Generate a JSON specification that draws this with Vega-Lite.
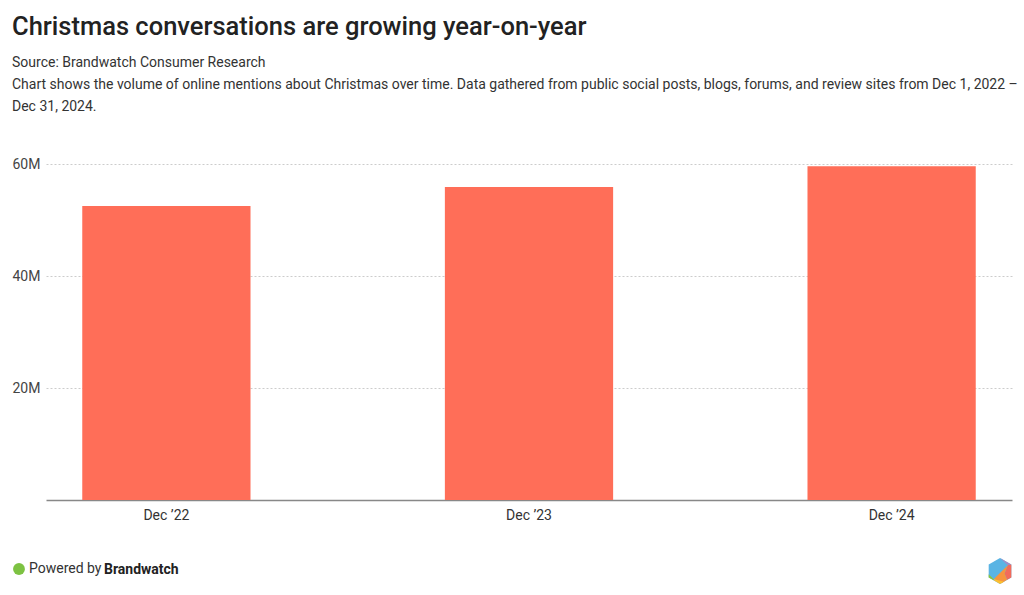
{
  "$schema": "https://vega.github.io/schema/vega-lite/v6.json",
  "autosize": {"type": "none"},
  "width": 966,
  "height": 336,
  "padding": {"left": 46, "top": 164, "right": 12, "bottom": 95},
  "background": "#ffffff",
  "config": {
    "font": "Roboto",
    "view": {"stroke": null},
    "title": {"font": "Roboto"},
    "point": {"opacity": 1},
    "legend": {"padding": 0, "title": null, "orient": "none", "labelFontSize": 14, "symbolOpacity": 1}
  },
  "title": {
    "text": "Christmas conversations are growing year-on-year",
    "subtitle": [
      "Source: Brandwatch Consumer Research",
      "Chart shows the volume of online mentions about Christmas over time. Data gathered from public social posts, blogs, forums, and review sites from Dec 1, 2022 –",
      "Dec 31, 2024."
    ],
    "anchor": "start",
    "frame": "group",
    "dx": -34,
    "offset": 43,
    "fontSize": 25.5,
    "fontWeight": 500,
    "color": "#222222",
    "subtitleFontSize": 14,
    "subtitleColor": "#333333",
    "subtitleLineHeight": 22,
    "subtitlePadding": 16
  },
  "data": {
    "values": [
      {"month": "Dec ’22", "mentions": 52500000},
      {"month": "Dec ’23", "mentions": 55900000},
      {"month": "Dec ’24", "mentions": 59600000}
    ]
  },
  "encoding": {
    "x": {
      "field": "month",
      "type": "nominal",
      "sort": null,
      "scale": {"paddingInner": 0.536, "paddingOuter": 0.1},
      "axis": {
        "title": null,
        "labelAngle": 0,
        "labelFontSize": 14,
        "labelColor": "#333333",
        "labelPadding": 8,
        "ticks": false,
        "domainColor": "#888888",
        "domainWidth": 1.5
      }
    },
    "y": {
      "field": "mentions",
      "type": "quantitative",
      "scale": {"domain": [0, 60000000], "nice": false},
      "axis": {
        "title": null,
        "values": [20000000, 40000000, 60000000],
        "format": "~s",
        "labelAlign": "left",
        "labelPadding": 34,
        "labelBaseline": "middle",
        "labelFontSize": 14,
        "labelColor": "#444444",
        "ticks": false,
        "domain": false,
        "gridColor": "#cccccc",
        "gridDash": [2, 2],
        "gridWidth": 1
      }
    }
  },
  "layer": [
    {
      "mark": {"type": "bar", "color": "#ff6e58"}
    },
    {
      "mark": {"type": "point", "filled": true, "size": 0, "opacity": 1},
      "encoding": {
        "color": {
          "datum": "Powered by",
          "scale": {"range": ["#7dc242"]},
          "legend": {
            "legendX": -34, "legendY": 398,
            "symbolType": "circle", "symbolSize": 140,
            "labelColor": "#333333", "labelOffset": 3
          }
        }
      }
    },
    {
      "mark": {"type": "point", "filled": true, "size": 0, "opacity": 1},
      "encoding": {
        "color": {
          "datum": "Brandwatch",
          "scale": {"range": ["#ffffff"]},
          "legend": {
            "legendX": 44, "legendY": 399,
            "symbolSize": 0, "symbolOpacity": 0,
            "labelOffset": 0, "labelFontWeight": 700, "labelColor": "#222222"
          }
        }
      }
    },
    {
      "mark": {"type": "point", "filled": true, "size": 0, "opacity": 1},
      "encoding": {
        "color": {
          "datum": "logo-blue",
          "scale": {"range": ["#5ab4e4"]},
          "legend": {
            "legendX": 940, "legendY": 393,
            "symbolType": "M0,-1L0.87,-0.5L0.87,0.5L0,1L-0.87,0.5L-0.87,-0.5Z",
            "symbolSize": 676, "labelExpr": "''", "labelOffset": 0
          }
        }
      }
    },
    {
      "mark": {"type": "point", "filled": true, "size": 0, "opacity": 1},
      "encoding": {
        "color": {
          "datum": "logo-purple",
          "scale": {"range": ["#a48cc6"]},
          "legend": {
            "legendX": 940, "legendY": 393,
            "symbolType": "M0,-1L0.87,-0.5L0.6,-0.45Z",
            "symbolSize": 676, "labelExpr": "''", "labelOffset": 0
          }
        }
      }
    },
    {
      "mark": {"type": "point", "filled": true, "size": 0, "opacity": 1},
      "encoding": {
        "color": {
          "datum": "logo-red",
          "scale": {"range": ["#f26b5b"]},
          "legend": {
            "legendX": 940, "legendY": 393,
            "symbolType": "M0.6,-0.45L0.87,-0.5L0.87,0.5L0.55,0.68L0.35,0.2Z",
            "symbolSize": 676, "labelExpr": "''", "labelOffset": 0
          }
        }
      }
    },
    {
      "mark": {"type": "point", "filled": true, "size": 0, "opacity": 1},
      "encoding": {
        "color": {
          "datum": "logo-orange",
          "scale": {"range": ["#f7943d"]},
          "legend": {
            "legendX": 940, "legendY": 393,
            "symbolType": "M0.6,-0.45L0.35,0.2L0.55,0.68L0.1,0.94L-0.45,0.6Z",
            "symbolSize": 676, "labelExpr": "''", "labelOffset": 0
          }
        }
      }
    },
    {
      "mark": {"type": "point", "filled": true, "size": 0, "opacity": 1},
      "encoding": {
        "color": {
          "datum": "logo-yellow",
          "scale": {"range": ["#fdc02f"]},
          "legend": {
            "legendX": 940, "legendY": 393,
            "symbolType": "M-0.5,0.62L0.3,0.82L0,1L-0.45,0.74Z",
            "symbolSize": 676, "labelExpr": "''", "labelOffset": 0
          }
        }
      }
    },
    {
      "mark": {"type": "point", "filled": true, "size": 0, "opacity": 1},
      "encoding": {
        "color": {
          "datum": "logo-green",
          "scale": {"range": ["#8cc63f"]},
          "legend": {
            "legendX": 940, "legendY": 393,
            "symbolType": "M-0.87,0.25L-0.5,0.62L-0.45,0.74L-0.87,0.5Z",
            "symbolSize": 676, "labelExpr": "''", "labelOffset": 0
          }
        }
      }
    }
  ],
  "resolve": {"scale": {"color": "independent"}, "legend": {"color": "independent"}}
}
